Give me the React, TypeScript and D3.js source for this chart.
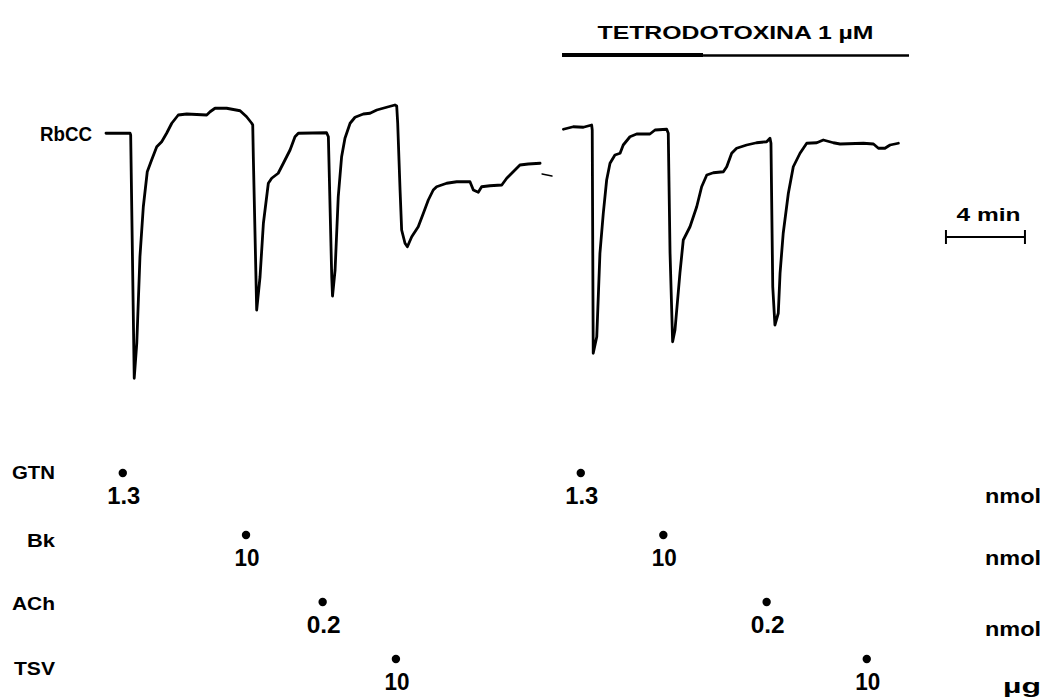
import React from "react";
import * as d3 from "d3";

// ---- data (time in min, response in arbitrary tension units; 0 = resting tone) ----
const controlTrace: [number, number][] = [
  [0.05, -0.1], [1.27, -0.1], [1.30, -0.8], [1.48, -98.1], [1.61, -84.0], [1.77, -49.5],
  [1.94, -29.5], [2.14, -15.5], [2.36, -10.8], [2.62, -5.5], [2.87, -3.5], [3.12, -0.1],
  [3.38, 3.9], [3.71, 7.2], [4.14, 7.6], [5.15, 7.2], [5.32, 8.5], [5.57, 9.9], [6.16, 9.9],
  [6.84, 8.9], [7.17, 6.5], [7.43, 3.9], [7.48, 3.2], [7.51, -9.5], [7.68, -70.8],
  [7.85, -57.5], [8.02, -36.1], [8.27, -20.1], [8.44, -18.1], [8.77, -16.1], [9.03, -12.1],
  [9.37, -6.8], [9.62, -1.5], [9.79, -0.1], [11.22, 0.1], [11.31, -1.5], [11.48, -57.5],
  [11.52, -65.2], [11.65, -54.8], [11.81, -25.5], [11.98, -9.5], [12.15, -2.1], [12.41, 3.9],
  [12.66, 6.3], [13.08, 7.6], [13.42, 7.9], [13.76, 9.2], [14.26, 10.3], [14.68, 11.2],
  [14.77, 10.8], [14.82, 3.9], [14.94, -22.8], [15.02, -38.8], [15.19, -44.1], [15.31, -45.5],
  [15.53, -41.5], [15.86, -37.5], [16.12, -32.1], [16.37, -26.8], [16.62, -22.8], [16.79, -21.5],
  [17.30, -20.1], [17.81, -19.5], [18.48, -19.5], [18.65, -22.8], [18.90, -23.7], [19.07, -21.5],
  [19.49, -21.1], [20.09, -20.8], [20.34, -18.1], [20.67, -15.5], [21.01, -12.8], [21.43, -12.4],
  [22.03, -12.1],
];
const controlTraceTail: [number, number][] = [[22.13, -16.4], [22.63, -17.2]];

const ttxTrace: [number, number][] = [
  [23.21, 1.5], [23.71, 2.5], [24.22, 2.3], [24.64, 3.2], [24.67, 1.2], [24.72, -88.1],
  [24.90, -81.5], [25.06, -48.1], [25.23, -32.1], [25.40, -18.8], [25.57, -12.1], [25.82, -8.8],
  [26.08, -8.1], [26.24, -4.8], [26.58, -1.5], [26.92, -0.4], [27.59, -0.4], [27.85, 1.2],
  [28.44, 1.5], [28.52, -0.1], [28.61, -48.1], [28.74, -83.5], [28.86, -78.8], [29.11, -56.1],
  [29.28, -42.8], [29.62, -37.5], [29.96, -29.5], [30.21, -21.5], [30.47, -16.8], [30.80, -15.9],
  [31.31, -15.5], [31.48, -13.5], [31.73, -8.1], [31.98, -6.1], [32.49, -4.8], [32.99, -3.9],
  [33.50, -3.5], [33.67, -2.1], [33.72, -4.1], [33.81, -61.5], [33.92, -76.8], [34.09, -72.1],
  [34.18, -56.1], [34.34, -40.1], [34.60, -24.1], [34.85, -13.5], [35.19, -8.1], [35.53, -4.1],
  [36.04, -3.9], [36.37, -2.8], [36.88, -3.9], [37.22, -4.4], [38.40, -4.1], [38.91, -4.4],
  [39.16, -6.1], [39.49, -6.1], [39.75, -4.8], [40.17, -4.1],
];

const agents = ["GTN", "Bk", "ACh", "TSV"];
const agentUnits = ["nmol", "nmol", "nmol", "\u00b5g"];

const injectionTimes = [0.9, 7.14, 11.02, 14.73, 24.09, 28.27, 33.5, 38.57];
const injectionAgent = ["GTN", "Bk", "ACh", "TSV", "GTN", "Bk", "ACh", "TSV"];
const injectionDose = ["1.3", "10", "0.2", "10", "1.3", "10", "0.2", "10"];

const ttxPeriod = [23.14, 40.71];
const ttxSplit = 30.28;
const ttxLabel = "TETRODOTOXINA 1 \u00b5M";
const tissueLabel = "RbCC";
const scaleBarMinutes = 4;
const scaleBarStart = 42.58;

// ---- layout ----
const W = 1047;
const H = 697;
const FONT = "'Liberation Sans', Arial, Helvetica, sans-serif";

export default function App() {
  const x = d3.scaleLinear().domain([0, 47]).range([105, 105 + 47 * 19.75]);
  const y = d3.scaleLinear().domain([-100, 20]).range([383, 83]);
  const line = d3
    .line<[number, number]>()
    .x((d) => x(d[0]))
    .y((d) => y(d[1]))
    .curve(d3.curveLinear);

  const dotY = d3.scaleOrdinal<string, number>().domain(agents).range([473, 535, 602, 659]);
  const labelY = d3.scaleOrdinal<string, number>().domain(agents).range([479, 547, 610, 675]);
  const unitY = d3.scaleOrdinal<string, number>().domain(agents).range([503, 565, 636, 693]);
  const labelW: Record<string, number> = { GTN: 43, Bk: 28, ACh: 43, TSV: 41 };
  const doseW: Record<string, number> = { "1.3": 33, "10": 25, "0.2": 34 };

  const sb0 = x(scaleBarStart);
  const sb1 = x(scaleBarStart + scaleBarMinutes);

  return (
    <svg
      width={W}
      height={H}
      style={{ position: "absolute", left: 0, top: 0, background: "#fff" }}
      fontFamily={FONT}
      fontWeight="bold"
    >
      <rect width={W} height={H} fill="#fff" />

      {/* TTX bar + label */}
      <text
        x={(x(ttxPeriod[0]) + x(ttxPeriod[1])) / 2}
        y={39}
        textAnchor="middle"
        fontSize={19}
        textLength={276}
        lengthAdjust="spacingAndGlyphs"
        fill="#000"
      >
        {ttxLabel}
      </text>
      <line x1={x(ttxPeriod[0])} x2={x(ttxSplit)} y1={55} y2={55} stroke="#000" strokeWidth={4} />
      <line x1={x(ttxSplit)} x2={x(ttxPeriod[1])} y1={55.5} y2={55.5} stroke="#000" strokeWidth={2.6} />

      {/* tissue label */}
      <text x={40} y={141} fontSize={20} textLength={52} lengthAdjust="spacingAndGlyphs" fill="#000">
        {tissueLabel}
      </text>

      {/* traces */}
      <g fill="none" stroke="#000" strokeWidth={2.8} strokeLinejoin="round" strokeLinecap="round">
        <path d={line(controlTrace) || ""} />
        <path d={line(controlTraceTail) || ""} strokeWidth={1.5} />
        <path d={line(ttxTrace) || ""} />
      </g>

      {/* time scale bar */}
      <text x={(sb0 + sb1) / 2 + 3} y={221} textAnchor="middle" fontSize={19} textLength={64} lengthAdjust="spacingAndGlyphs" fill="#000">
        {scaleBarMinutes} min
      </text>
      <g stroke="#000" strokeWidth={2}>
        <line x1={sb0} x2={sb1} y1={237} y2={237} />
        <line x1={sb0} x2={sb0} y1={230} y2={244} />
        <line x1={sb1} x2={sb1} y1={230} y2={244} />
      </g>

      {/* agent labels */}
      {agents.map((a) => (
        <text key={a} x={55} y={labelY(a)} textAnchor="end" fontSize={18} textLength={labelW[a]} lengthAdjust="spacingAndGlyphs" fill="#000">
          {a}
        </text>
      ))}

      {/* units */}
      {agents.map((a, i) => (
        <text
          key={"u" + a}
          x={1041}
          y={unitY(a)}
          textAnchor="end"
          fontSize={21}
          textLength={agentUnits[i] === "nmol" ? 56 : 38}
          lengthAdjust="spacingAndGlyphs"
          fill="#000"
        >
          {agentUnits[i]}
        </text>
      ))}

      {/* injections */}
      {injectionTimes.map((t, i) => {
        const a = injectionAgent[i];
        const cx = x(t);
        const cy = dotY(a);
        return (
          <g key={"inj" + i}>
            <circle cx={cx} cy={cy} r={4.2} fill="#000" />
            <text
              x={cx + 1}
              y={cy + 31}
              textAnchor="middle"
              fontSize={23}
              textLength={doseW[injectionDose[i]]}
              lengthAdjust="spacingAndGlyphs"
              fill="#000"
            >
              {injectionDose[i]}
            </text>
          </g>
        );
      })}
    </svg>
  );
}
